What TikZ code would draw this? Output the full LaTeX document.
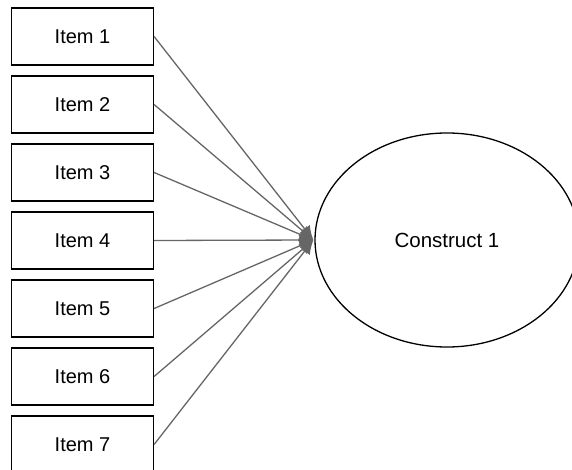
\documentclass[tikz,border=0pt]{standalone}
\usepackage{fontspec}
\setmainfont{Liberation Sans}
\usetikzlibrary{arrows.meta,shapes.geometric}
\begin{document}
\begin{tikzpicture}[x=1pt,y=-1pt,
  itembox/.style={draw=black,line width=1.2pt,fill=white,minimum width=142pt,minimum height=57pt,inner sep=0pt,font=\fontsize{20}{22}\selectfont},
  construct/.style={draw=black,line width=1.3pt,ellipse,minimum width=264pt,minimum height=214pt,inner sep=0pt,font=\fontsize{20.5}{22}\selectfont},
  link/.style={draw=black!60,line width=1.3pt,-{Latex[length=14pt,width=13pt]}}]
\useasboundingbox (0,0) rectangle (572,470);
\node[construct] (c) at (447,240) {Construct 1};
\foreach \i in {1,...,7}{
  \node[itembox] (i\i) at (82.5,{36.5+68*(\i-1)}) {Item \i};
}
\foreach \i in {1,...,7}{
  \draw[link] (i\i.east) -- ([xshift=-1pt]c.west);
}
\end{tikzpicture}
\end{document}
